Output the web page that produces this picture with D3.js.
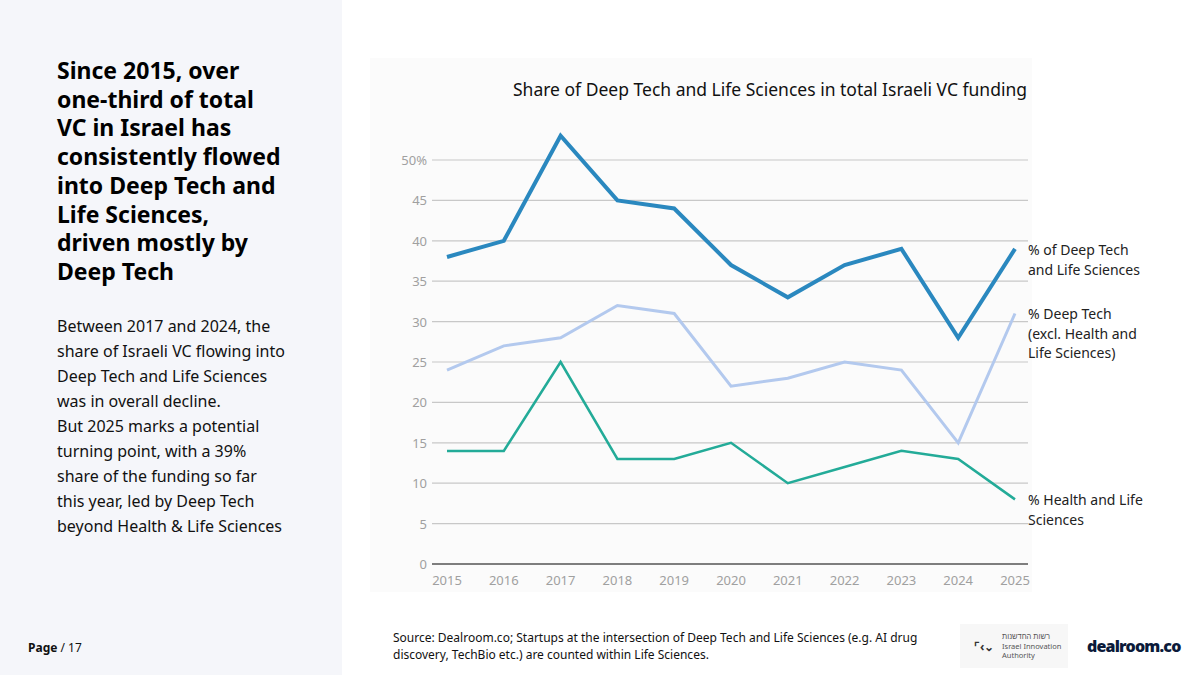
<!DOCTYPE html>
<html><head><meta charset="utf-8">
<script src="https://cdn.jsdelivr.net/npm/d3@7"></script>
<style>
body{margin:0;font-family:"Noto Sans",sans-serif;background:#fff;}
</style></head>
<body><svg id="c" width="1200" height="675"></svg>
<script>
const years = [2015,2016,2017,2018,2019,2020,2021,2022,2023,2024,2025];
const totalShare = [38,40,53,45,44,37,33,37,39,28,39];
const deepTechShare = [24,27,28,32,31,22,23,25,24,15,31];
const healthShare = [14,14,25,13,13,15,10,12,14,13,8];
const yTicks = [0,5,10,15,20,25,30,35,40,45,50];

const svg = d3.select('#c');

// left panel
svg.append('rect').attr('width',342).attr('height',675).attr('fill','#f5f6fa');
const head = ['Since 2015, over','one-third of total','VC in Israel has','consistently flowed','into Deep Tech and','Life Sciences,','driven mostly by','Deep Tech'];
svg.append('text').attr('font-size',23).attr('font-weight',700).attr('fill','#000')
  .selectAll('tspan').data(head).join('tspan').attr('x',57).attr('y',(d,i)=>79+i*28.7).text(d=>d);
const body = ['Between 2017 and 2024, the','share of Israeli VC flowing into','Deep Tech and Life Sciences','was in overall decline.','But 2025 marks a potential','turning point, with a 39%','share of the funding so far','this year, led by Deep Tech','beyond Health & Life Sciences'];
svg.append('text').attr('font-size',16).attr('fill','#111')
  .selectAll('tspan').data(body).join('tspan').attr('x',57).attr('y',(d,i)=>332+i*25).text(d=>d);
svg.append('text').attr('x',28).attr('y',652).attr('font-size',12).attr('fill','#111')
  .html('<tspan font-weight="700">Page</tspan> / 17');

// chart panel
svg.append('rect').attr('x',370).attr('y',58).attr('width',662).attr('height',534).attr('fill','#fbfbfb');
svg.append('text').attr('x',770).attr('y',96).attr('text-anchor','middle').attr('font-size',17.5).attr('fill','#111')
  .text('Share of Deep Tech and Life Sciences in total Israeli VC funding');

const x = d3.scalePoint().domain(years).range([447,1015]);
const y = d3.scaleLinear().domain([0,50]).range([564,160]);

const g = svg.append('g');
g.selectAll('line.grid').data(yTicks).join('line')
  .attr('x1',432).attr('x2',1028).attr('y1',d=>y(d)).attr('y2',d=>y(d))
  .attr('stroke',d=>d===0?'#555':'#c8c8c8').attr('stroke-width',d=>d===0?1.5:1.2);
g.selectAll('text.yl').data(yTicks).join('text')
  .attr('x',427).attr('y',d=>y(d)+5).attr('text-anchor','end').attr('font-size',13).attr('fill','#a0a0a0')
  .text(d=>d===50?'50%':d);
g.selectAll('text.xl').data(years).join('text')
  .attr('x',d=>x(d)).attr('y',585).attr('text-anchor','middle').attr('font-size',13).attr('fill','#a0a0a0')
  .text(d=>d);

const line = d3.line().x((d,i)=>x(years[i])).y(d=>y(d));
const series = [
  {v:totalShare,c:'#2a88bf',w:4,label:['% of Deep Tech','and Life Sciences'],ly:255},
  {v:deepTechShare,c:'#b3c9ee',w:3,label:['% Deep Tech','(excl. Health and','Life Sciences)'],ly:319},
  {v:healthShare,c:'#23ab98',w:2.5,label:['% Health and Life','Sciences'],ly:505}
];
series.forEach(s=>{
  g.append('path').attr('d',line(s.v)).attr('fill','none').attr('stroke',s.c)
    .attr('stroke-width',s.w).attr('stroke-linejoin','miter');
  g.append('text').attr('font-size',14).attr('fill','#222')
    .selectAll('tspan').data(s.label).join('tspan').attr('x',1028).attr('y',(d,i)=>s.ly+i*19.5).text(d=>d);
});

// footer
svg.append('text').attr('font-size',12).attr('fill','#111')
  .selectAll('tspan').data(['Source:  Dealroom.co; Startups at the intersection of Deep Tech and Life Sciences (e.g. AI drug','discovery, TechBio etc.) are counted within Life Sciences.'])
  .join('tspan').attr('x',393).attr('y',(d,i)=>642+i*17).text(d=>d);
svg.append('rect').attr('x',960).attr('y',624).attr('width',108).attr('height',44).attr('fill','#f7f7f7');
svg.append('text').attr('x',974).attr('y',651).attr('font-size',12).attr('font-weight',700).attr('fill','#333').text('⌜‹⌄');
svg.append('text').attr('font-size',7.5).attr('fill','#555')
  .selectAll('tspan').data(['רשות החדשנות','Israel Innovation','Authority']).join('tspan')
  .attr('x',1002).attr('y',(d,i)=>639+i*9.5).text(d=>d);
svg.append('text').attr('x',1087).attr('y',652).attr('font-size',16).attr('font-weight',900)
  .attr('fill','#0b1a3a').attr('letter-spacing',-0.8).text('dealroom.co');
</script></body></html>
